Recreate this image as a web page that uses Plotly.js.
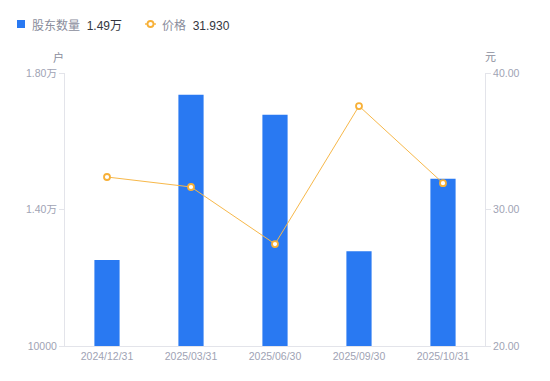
<!DOCTYPE html>
<html>
<head>
<meta charset="utf-8">
<script src="https://cdn.plot.ly/plotly-3.0.1.min.js"></script>
<style>html,body{margin:0;padding:0;background:#fff;}#chart{width:550px;height:381px;}</style>
</head>
<body>
<div id="chart"></div>
<script>
const categories = ["2024/12/31", "2025/03/31", "2025/06/30", "2025/09/30", "2025/10/31"];
const holders = [12520, 17360, 16780, 12780, 14900];
const prices = [32.38, 31.65, 27.47, 37.58, 31.93];
const leftTickVals = [10000, 14000, 18000];
const leftTickText = ["10000", "1.40万", "1.80万"];
const rightTickVals = [20, 30, 40];
const rightTickText = ["20.00", "30.00", "40.00"];

const font = '"Liberation Sans", Arial, "Noto Sans CJK SC", sans-serif';
const tickColor = '#a0a3b4';
const axisColor = '#e3e4ea';

const traces = [
  {
    type: 'bar', x: categories, y: holders, name: '股东数量',
    marker: {color: '#2979f2', line: {width: 0}}, yaxis: 'y'
  },
  {
    type: 'scatter', mode: 'lines+markers', x: categories, y: prices, name: '价格',
    yaxis: 'y2', line: {color: '#f7b84a', width: 1},
    marker: {size: 6, color: '#ffffff', line: {color: '#f7b037', width: 1.8}}
  }
];

const L = 65, T = 73, W = 420, H = 273;
const px = v => (v - L) / W;
const py = v => (T + H - v) / H;

const layout = {
  width: 550, height: 381,
  margin: {l: 65, r: 65, t: 73, b: 35},
  paper_bgcolor: '#fff', plot_bgcolor: '#fff',
  showlegend: false,
  bargap: 0.7,
  font: {family: font, color: tickColor, size: 10},
  xaxis: {
    type: 'category', showgrid: false, zeroline: false,
    showline: true, linecolor: axisColor, linewidth: 1,
    ticks: '', tickfont: {size: 10.5, color: tickColor, family: font}
  },
  yaxis: {
    range: [10000, 18000], tickvals: leftTickVals, ticktext: leftTickText,
    showgrid: false, zeroline: false, showline: true, linecolor: axisColor,
    ticks: 'outside', ticklen: 5, tickcolor: axisColor,
    tickfont: {size: 10.5, color: tickColor, family: font}
  },
  yaxis2: {
    range: [20, 40], tickvals: rightTickVals, ticktext: rightTickText,
    overlaying: 'y', side: 'right',
    showgrid: false, zeroline: false, showline: true, linecolor: axisColor,
    ticks: 'outside', ticklen: 5, tickcolor: axisColor,
    tickfont: {size: 10.5, color: tickColor, family: font}
  },
  shapes: [
    {type: 'rect', xref: 'paper', yref: 'paper', x0: px(17), x1: px(25), y0: py(28), y1: py(20),
     fillcolor: '#2979f2', line: {width: 0}},
    {type: 'line', xref: 'paper', yref: 'paper', x0: px(145), x1: px(156), y0: py(24), y1: py(24),
     line: {color: '#f7b84a', width: 1.5}},
    {type: 'circle', xref: 'paper', yref: 'paper', x0: px(147.5), x1: px(153.5), y0: py(27), y1: py(21),
     fillcolor: '#ffffff', line: {color: '#f7b037', width: 1.8}}
  ],
  annotations: [
    {xref: 'paper', yref: 'paper', x: px(30), y: py(25.5), xanchor: 'left', yanchor: 'middle', showarrow: false,
     text: '<span style="color:#8a8d9c">股东数量</span>  <span style="color:#333640">1.49万</span>',
     font: {size: 12, family: font}},
    {xref: 'paper', yref: 'paper', x: px(160), y: py(25.5), xanchor: 'left', yanchor: 'middle', showarrow: false,
     text: '<span style="color:#8a8d9c">价格</span>  <span style="color:#333640">31.930</span>',
     font: {size: 12, family: font}},
    {xref: 'paper', yref: 'paper', x: px(58), y: py(57), xanchor: 'center', yanchor: 'middle', showarrow: false,
     text: '户', font: {size: 11, color: '#8a8d9c', family: font}},
    {xref: 'paper', yref: 'paper', x: px(490), y: py(57), xanchor: 'center', yanchor: 'middle', showarrow: false,
     text: '元', font: {size: 11, color: '#8a8d9c', family: font}}
  ]
};

Plotly.newPlot('chart', traces, layout, {displayModeBar: false, staticPlot: true});
</script>
</body>
</html>
